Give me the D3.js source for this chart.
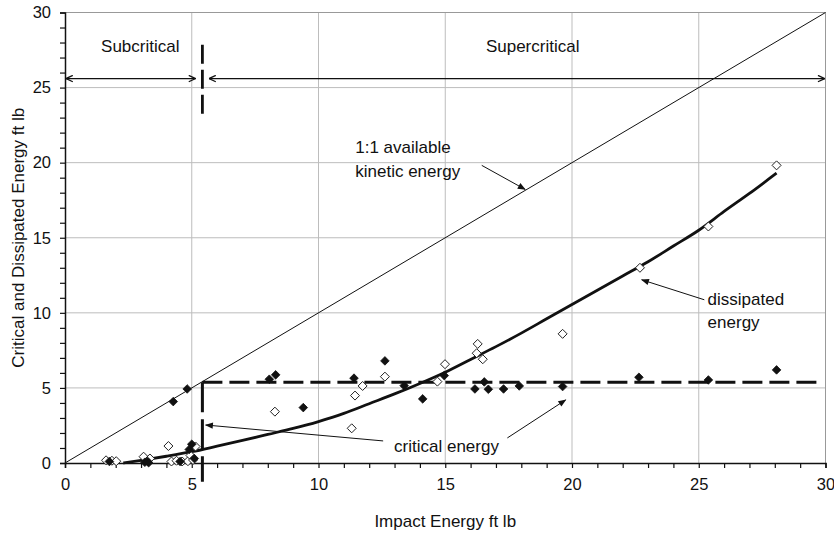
<!DOCTYPE html>
<html>
<head>
<meta charset="utf-8">
<script src="https://cdn.jsdelivr.net/npm/d3@7"></script>
<style>
  html, body { margin: 0; padding: 0; background: #fff; }
  text { font-family: Arial, "Liberation Sans", sans-serif; fill: #111; }
</style>
</head>
<body>
<svg id="chart" width="834" height="535"></svg>
<script>
// ---------------- DATA ----------------
const xTicks = [0, 5, 10, 15, 20, 25, 30];
const yTicks = [0, 5, 10, 15, 20, 25, 30];

// filled diamonds (critical energy observations)
const filledX = [1.75, 3.15, 3.25, 3.3, 4.27, 4.54, 4.82, 4.9, 5.0, 5.1, 8.06, 8.31, 9.40, 11.40, 12.62, 13.38, 14.11, 14.96, 16.17, 16.54, 16.70, 17.30, 17.92, 19.63, 22.64, 25.38, 28.07];
const filledY = [0.10, 0.05, 0.12, 0.02, 4.09, 0.10, 4.93, 0.90, 1.25, 0.30, 5.58, 5.87, 3.69, 5.65, 6.80, 5.15, 4.27, 5.82, 4.93, 5.40, 4.91, 4.93, 5.13, 5.09, 5.71, 5.53, 6.20];

// open diamonds (dissipated energy observations)
const openX = [1.62, 1.85, 2.02, 3.10, 3.35, 4.08, 4.20, 4.40, 4.62, 4.85, 4.95, 5.05, 5.15, 8.28, 11.31, 11.44, 11.74, 12.62, 14.69, 14.99, 16.24, 16.28, 16.48, 19.63, 22.68, 25.38, 28.07];
const openY = [0.18, 0.15, 0.12, 0.42, 0.30, 1.13, 0.10, 0.15, 0.10, 0.12, 0.50, 0.20, 1.10, 3.42, 2.31, 4.49, 5.13, 5.75, 5.42, 6.58, 7.31, 7.93, 6.91, 8.60, 13.00, 15.75, 19.82];

// dissipated energy trend
const trendX = [2.3, 3, 4, 5, 6, 7, 8, 9, 10, 11, 12, 13, 14, 15, 16, 17, 18, 19, 20, 21, 22, 23, 24, 25, 26, 27, 28.07];
const trendY = [0, 0.18, 0.45, 0.75, 1.12, 1.5, 1.9, 2.3, 2.76, 3.3, 3.95, 4.6, 5.3, 6.05, 6.9, 7.75, 8.65, 9.6, 10.55, 11.5, 12.45, 13.4, 14.45, 15.5, 16.75, 17.95, 19.3];

// critical energy threshold
const criticalX = 5.42;
const criticalY = 5.38;

// labels
const xTitle = "Impact Energy ft lb";
const yTitle = "Critical and Dissipated Energy ft lb";

// ---------------- CHART ----------------
const W = 834, H = 535;
const m = { left: 65, top: 12.5, right: 8.5, bottom: 72 };
const svg = d3.select("#chart");
const x = d3.scaleLinear().domain([0, 30]).range([m.left, W - m.right]);
const y = d3.scaleLinear().domain([0, 30]).range([H - m.bottom, m.top]);

const defs = svg.append("defs");
defs.append("marker").attr("id", "tri").attr("viewBox", "0 0 10 10")
  .attr("refX", 9).attr("refY", 5).attr("markerWidth", 9).attr("markerHeight", 8)
  .attr("markerUnits", "userSpaceOnUse").attr("orient", "auto")
  .append("path").attr("d", "M0,1 L10,5 L0,9 Z").attr("fill", "#111");
defs.append("marker").attr("id", "openHead").attr("viewBox", "0 0 10 10")
  .attr("refX", 9.5).attr("refY", 5).attr("markerWidth", 8).attr("markerHeight", 8)
  .attr("markerUnits", "userSpaceOnUse").attr("orient", "auto-start-reverse")
  .append("path").attr("d", "M1,1 L9.5,5 L1,9").attr("fill", "none")
  .attr("stroke", "#111").attr("stroke-width", 1.6);

// grid
const grid = svg.append("g");
[5, 10, 15, 20, 25].forEach(v => {
  grid.append("line").attr("x1", x(v)).attr("x2", x(v)).attr("y1", y(0)).attr("y2", y(30))
    .attr("stroke", "#bdbdbd").attr("stroke-width", 1);
  grid.append("line").attr("x1", x(0)).attr("x2", x(30)).attr("y1", y(v)).attr("y2", y(v))
    .attr("stroke", "#bdbdbd").attr("stroke-width", 1);
});
// top and right border
grid.append("line").attr("x1", x(0)).attr("x2", x(30)).attr("y1", y(30)).attr("y2", y(30))
  .attr("stroke", "#999").attr("stroke-width", 1);
grid.append("line").attr("x1", x(30)).attr("x2", x(30)).attr("y1", y(0)).attr("y2", y(30))
  .attr("stroke", "#999").attr("stroke-width", 1);

// axes
const xAxis = d3.axisBottom(x).tickValues(d3.range(0, 31, 1)).tickSize(5)
  .tickFormat(d => xTicks.includes(d) ? d : "").tickPadding(10);
const yAxis = d3.axisLeft(y).tickValues(d3.range(0, 31, 1)).tickSize(5)
  .tickFormat(d => yTicks.includes(d) ? d : "").tickPadding(9);
const gx = svg.append("g").attr("transform", `translate(0,${y(0)})`).call(xAxis);
const gy = svg.append("g").attr("transform", `translate(${x(0)},0)`).call(yAxis);
[gx, gy].forEach(g => {
  g.select(".domain").attr("stroke", "#111").attr("stroke-width", 1.5);
  g.selectAll(".tick line").attr("stroke", "#111").attr("stroke-width", 1.2);
  g.selectAll("text").style("font-size", "16.5px").attr("fill", "#222")
    .style("font-family", "Arial, 'Liberation Sans', sans-serif");
});

// titles
svg.append("text").attr("x", (x(0) + x(30)) / 2).attr("y", 527).attr("text-anchor", "middle")
  .style("font-size", "17px").text(xTitle);
svg.append("text").attr("transform", `translate(24,${(y(0) + y(30)) / 2}) rotate(-90)`)
  .attr("text-anchor", "middle").style("font-size", "17px").text(yTitle);

// 1:1 line
svg.append("line").attr("x1", x(0)).attr("y1", y(0)).attr("x2", x(30)).attr("y2", y(30))
  .attr("stroke", "#111").attr("stroke-width", 1);

// critical energy dashed lines
svg.append("line").attr("x1", x(criticalX)).attr("x2", x(29.65)).attr("y1", y(criticalY)).attr("y2", y(criticalY))
  .attr("stroke", "#111").attr("stroke-width", 3).attr("stroke-dasharray", "20,7");
svg.append("line").attr("x1", x(criticalX)).attr("x2", x(criticalX)).attr("y1", y(criticalY)).attr("y2", y(-1.25))
  .attr("stroke", "#111").attr("stroke-width", 3).attr("stroke-dasharray", "30,7");
// upper divider
svg.append("line").attr("x1", x(criticalX)).attr("x2", x(criticalX)).attr("y1", y(27.85)).attr("y2", y(22.95))
  .attr("stroke", "#111").attr("stroke-width", 2.8).attr("stroke-dasharray", "19,6");

// trend line
const trend = trendX.map((v, i) => [v, trendY[i]]);
svg.append("path").datum(trend)
  .attr("d", d3.line().x(d => x(d[0])).y(d => y(d[1])).curve(d3.curveMonotoneX))
  .attr("fill", "none").attr("stroke", "#111").attr("stroke-width", 2.8);

// diamonds
const diamond = (cx, cy, r) => `M${cx},${cy - r}L${cx + r},${cy}L${cx},${cy + r}L${cx - r},${cy}Z`;
svg.append("g").selectAll("path").data(openX.map((v, i) => [v, openY[i]])).join("path")
  .attr("d", d => diamond(x(d[0]), y(d[1]), 4.5))
  .attr("fill", "#fff").attr("stroke", "#222").attr("stroke-width", 1);
svg.append("g").selectAll("path").data(filledX.map((v, i) => [v, filledY[i]])).join("path")
  .attr("d", d => diamond(x(d[0]), y(d[1]), 4.3))
  .attr("fill", "#111").attr("stroke", "#111").attr("stroke-width", 0.8);

// region arrows
const ar = svg.append("g");
ar.append("line").attr("x1", x(0) + 1).attr("x2", x(5.15)).attr("y1", y(25.6)).attr("y2", y(25.6))
  .attr("stroke", "#111").attr("stroke-width", 1.3)
  .attr("marker-start", "url(#openHead)").attr("marker-end", "url(#openHead)");
ar.append("line").attr("x1", x(5.68)).attr("x2", x(29.97)).attr("y1", y(25.6)).attr("y2", y(25.6))
  .attr("stroke", "#111").attr("stroke-width", 1.3)
  .attr("marker-start", "url(#openHead)").attr("marker-end", "url(#openHead)");

svg.append("text").attr("x", x(2.97)).attr("y", y(27.4)).attr("text-anchor", "middle")
  .style("font-size", "17px").text("Subcritical");
svg.append("text").attr("x", x(18.45)).attr("y", y(27.4)).attr("text-anchor", "middle")
  .style("font-size", "17px").text("Supercritical");

// annotation texts
svg.append("text").attr("x", x(11.45)).attr("y", y(20.65)).style("font-size", "17px").text("1:1 available");
svg.append("text").attr("x", x(11.45)).attr("y", y(19.05)).style("font-size", "17px").text("kinetic energy");
svg.append("text").attr("x", x(25.35)).attr("y", y(10.55)).style("font-size", "17px").text("dissipated");
svg.append("text").attr("x", x(25.35)).attr("y", y(9.0)).style("font-size", "17px").text("energy");
svg.append("text").attr("x", x(12.98)).attr("y", y(0.75)).style("font-size", "17px").text("critical energy");

// annotation arrows
const arrows = [
  [16.44, 19.82, 18.15, 18.22],
  [25.22, 10.87, 22.75, 12.2],
  [12.55, 1.47, 5.55, 2.53],
  [17.45, 1.67, 19.75, 4.2]
];
svg.append("g").selectAll("line").data(arrows).join("line")
  .attr("x1", d => x(d[0])).attr("y1", d => y(d[1])).attr("x2", d => x(d[2])).attr("y2", d => y(d[3]))
  .attr("stroke", "#111").attr("stroke-width", 1).attr("marker-end", "url(#tri)");
</script>
</body>
</html>
